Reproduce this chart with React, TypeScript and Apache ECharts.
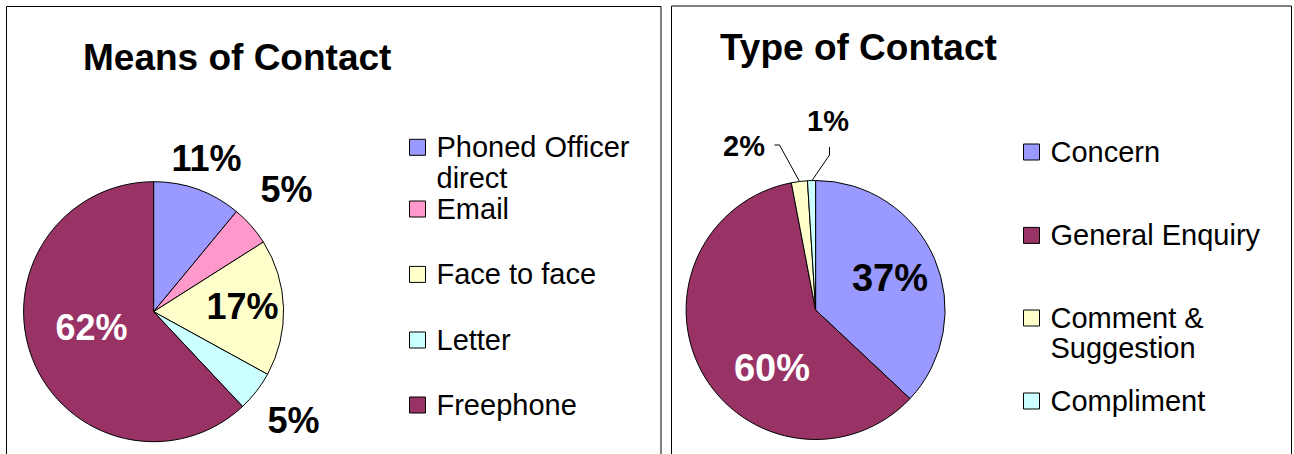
import React, { useEffect, useRef } from 'react';
import * as echarts from 'echarts';

// ---- Data ----
const meansNames = ['Phoned Officer direct', 'Email', 'Face to face', 'Letter', 'Freephone'];
const meansLegendLabels = ['Phoned Officer\ndirect', 'Email', 'Face to face', 'Letter', 'Freephone'];
const meansValues = [11, 5, 17, 5, 62];
const meansColors = ['#9999FF', '#FF99CC', '#FFFFCC', '#CCFFFF', '#993366'];

const typeNames = ['Concern', 'General Enquiry', 'Comment & Suggestion', 'Compliment'];
const typeLegendLabels = ['Concern', 'General Enquiry', 'Comment &\nSuggestion', 'Compliment'];
const typeValues = [37, 60, 2, 1];
const typeColors = ['#9999FF', '#993366', '#FFFFCC', '#CCFFFF'];

const titles = ['Means of Contact', 'Type of Contact'];

// ---- Layout / style ----
const FONT = '"Liberation Sans", Arial, sans-serif';
const meansLabelPos = [[206.5, 158], [286.5, 189], [242.5, 306], [293.5, 420], [91.5, 327]];
const meansLabelColor = ['#000', '#000', '#000', '#000', '#fff'];
const meansLabelInside = [false, false, false, false, true];
const typeLabelPos = [[890, 278], [772, 368], [744, 145.5], [828, 121]];
const typeLabelColor = ['#000', '#fff', '#000', '#000'];
const typeLabelSize = [38, 38, 29, 29];
const typeLabelInside = [true, true, false, false];
const typeLeaderLines: Record<number, number[][]> = {
  2: [[774.5, 145], [779.5, 145], [799.5, 181.5]],
  3: [[829.5, 147], [829.5, 155], [812, 180.5]],
};
const meansLegendTop = [100.8, 193.5, 258.9, 324.5, 389.5];
const typeLegendTop = [137, 220.4, 273, 386];

export default function App() {
  const ref = useRef<HTMLDivElement>(null);
  useEffect(() => {
    if (!ref.current) return;
    const chart = echarts.init(ref.current, undefined, { renderer: 'svg' });

    const legendBase = (L: number) => ({
      orient: 'vertical',
      padding: 0,
      itemWidth: 16,
      itemHeight: 16,
      icon: 'rect',
      selectedMode: false,
      itemStyle: { borderColor: '#000', borderWidth: 1 },
      textStyle: {
        fontFamily: FONT,
        fontSize: 29,
        color: '#000',
        lineHeight: L,
        padding: [0, 0, 0, 6],
      },
    });

    // two-line entries get a leading empty line so the first line sits beside the key
    const fmt = (s: string) => (s.includes('\n') ? '\n' + s : s);

    const legends: any[] = [];
    meansNames.forEach((n, i) => {
      legends.push({
        ...legendBase(31),
        data: [n],
        left: 409,
        top: meansLegendTop[i],
        formatter: () => fmt(meansLegendLabels[i]),
      });
    });
    typeNames.forEach((n, i) => {
      legends.push({
        ...legendBase(30),
        data: [n],
        left: 1023,
        top: typeLegendTop[i],
        formatter: () => fmt(typeLegendLabels[i]),
      });
    });

    const option: any = {
      animation: false,
      backgroundColor: '#fff',
      title: [
        {
          text: titles[0],
          left: 83,
          top: 39,
          padding: 0,
          textStyle: { fontFamily: FONT, fontWeight: 'bold', fontSize: 37, lineHeight: 37, color: '#000' },
        },
        {
          text: titles[1],
          left: 720,
          top: 29,
          padding: 0,
          textStyle: { fontFamily: FONT, fontWeight: 'bold', fontSize: 37, lineHeight: 37, color: '#000' },
        },
      ],
      legend: legends,
      graphic: [
        {
          type: 'rect',
          z: -10,
          shape: { x: 6.5, y: 6.5, width: 654.5, height: 470 },
          style: { fill: 'none', stroke: '#000', lineWidth: 1 },
        },
        {
          type: 'rect',
          z: -10,
          shape: { x: 671.5, y: 6, width: 620, height: 470 },
          style: { fill: 'none', stroke: '#000', lineWidth: 1 },
        },
      ],
      series: [
        {
          type: 'pie',
          center: [153.6, 311.7],
          radius: 130,
          startAngle: 90,
          clockwise: true,
          emphasis: { disabled: true },
          itemStyle: { borderColor: '#000', borderWidth: 1 },
          label: {
            show: true,
            position: 'outside',
            fontFamily: FONT,
            fontWeight: 'bold',
            fontSize: 36,
            formatter: (p: any) => Math.round(p.percent) + '%',
          },
          labelLine: { show: false },
          labelLayout: (params: any) => {
            const p = meansLabelPos[params.dataIndex];
            return { x: p[0], y: p[1], align: 'center', verticalAlign: 'middle' };
          },
          data: meansNames.map((n, i) => ({
            name: n,
            value: meansValues[i],
            itemStyle: { color: meansColors[i] },
            label: { color: meansLabelColor[i], position: meansLabelInside[i] ? 'inside' : 'outside' },
          })),
        },
        {
          type: 'pie',
          center: [815.6, 310],
          radius: 129.5,
          startAngle: 90,
          clockwise: true,
          emphasis: { disabled: true },
          itemStyle: { borderColor: '#000', borderWidth: 1 },
          label: {
            show: true,
            position: 'outside',
            fontFamily: FONT,
            fontWeight: 'bold',
            fontSize: 29,
            formatter: (p: any) => Math.round(p.percent) + '%',
          },
          labelLine: { show: false },
          labelLayout: (params: any) => {
            const i = params.dataIndex;
            const p = typeLabelPos[i];
            const out: any = { x: p[0], y: p[1], align: 'center', verticalAlign: 'middle' };
            if (typeLeaderLines[i]) out.labelLinePoints = typeLeaderLines[i];
            return out;
          },
          data: typeNames.map((n, i) => ({
            name: n,
            value: typeValues[i],
            itemStyle: { color: typeColors[i] },
            label: {
              color: typeLabelColor[i],
              fontSize: typeLabelSize[i],
              position: typeLabelInside[i] ? 'inside' : 'outside',
            },
            labelLine: typeLeaderLines[i]
              ? { show: true, length: 8, length2: 5, smooth: false, lineStyle: { color: '#000', width: 1 } }
              : { show: false },
          })),
        },
      ],
    };
    chart.setOption(option);
    return () => chart.dispose();
  }, []);

  return (
    <div
      ref={ref}
      style={{ position: 'fixed', left: 0, top: 0, width: 1294, height: 454, background: '#fff' }}
    />
  );
}
